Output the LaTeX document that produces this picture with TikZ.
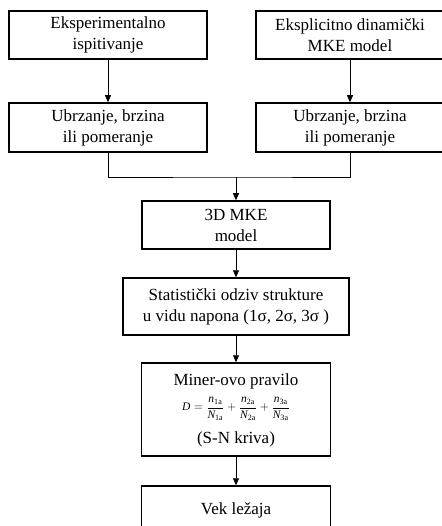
\documentclass[tikz,border=0pt]{standalone}
\usepackage{fontspec}
\setmainfont{Liberation Serif}
\usetikzlibrary{arrows.meta}

\begin{document}
\begin{tikzpicture}[x = 1pt, y = -1pt]
		\tikzstyle{every node} = [font = \fontsize{17}{21}\selectfont, align = center, inner sep = 0pt]
		\tikzstyle{box} = [draw, line width = 1.5pt, minimum height = 48pt]
		\tikzstyle{arrow} = [line width = .8pt, -{Triangle[length = 7pt, width = 6pt]}]
		\useasboundingbox (0,0) rectangle (441,526);

		% top row
		\node [box, minimum width = 198pt] (exp) at (108,35) {Eksperimentalno\\ispitivanje};
		\node [box, minimum width = 188pt] (mkedin) at (350,35) {Eksplicitno dinami\v{c}ki\\MKE model};

		% second row
		\node [box, minimum width = 198pt, minimum height = 49pt] (ubrzA) at (108,127.5) {Ubrzanje, brzina\\ili pomeranje};
		\node [box, minimum width = 188pt, minimum height = 49pt] (ubrzB) at (350,127.5) {Ubrzanje, brzina\\ili pomeranje};

		% middle column
		\node [box, minimum width = 188pt] (mke3d) at (236,225) {3D MKE\\model};
		\node [box, minimum width = 226pt, minimum height = 57pt] (stat) at (236,306.5) {Statisti\v{c}ki odziv strukture\\u vidu napona (1σ, 2σ, 3σ )};
		\node [box, minimum width = 189pt, minimum height = 93pt] (miner) at (236,409.5) {};
		\node (minerA) at (236,381) {Miner-ovo pravilo};
		\node (minerB) at (236,409) {\fontsize{11.5}{13}\selectfont$\displaystyle\mathit{D}=\frac{\mathit{n}_{\mathrm{1a}}}{\mathit{N}_{\mathrm{1a}}}+\frac{\mathit{n}_{\mathrm{2a}}}{\mathit{N}_{\mathrm{2a}}}+\frac{\mathit{n}_{\mathrm{3a}}}{\mathit{N}_{\mathrm{3a}}}$};
		\node (minerC) at (236,439) {(S-N kriva)};
		\node [box, minimum width = 189pt] (vek) at (236,510) {Vek le\v{z}aja};

		\coordinate (join) at (236,177);

		\draw [arrow] (exp) -- (ubrzA); %left column
		\draw [arrow] (mkedin) -- (ubrzB); %right column
		\draw [line width = .8pt] (ubrzA.south) |- (join) -| (ubrzB.south);
		\draw [arrow] (join) -- (mke3d.north);
		\draw [arrow] (mke3d) -- (stat);
		\draw [arrow] (stat) -- (miner);
		\draw [arrow] (miner) -- (vek);
	\end{tikzpicture}
\end{document}
